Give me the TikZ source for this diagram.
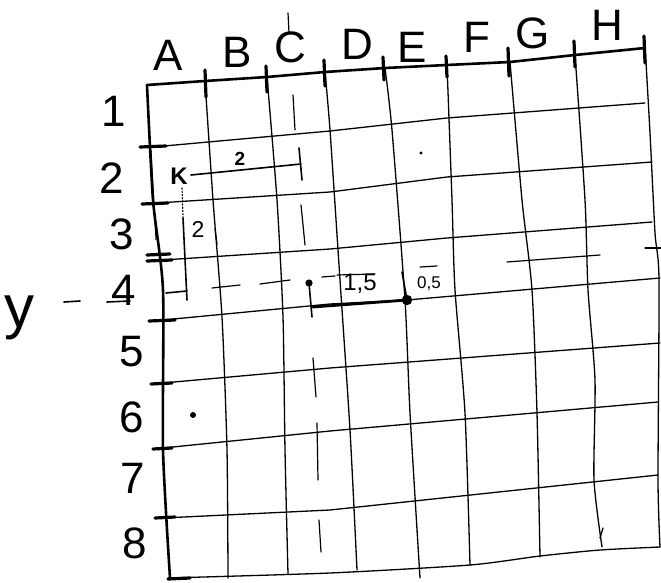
\documentclass[tikz,border=0pt]{standalone}
\usepackage{fontspec}
\setmainfont{Liberation Sans}
\begin{document}
\begin{tikzpicture}[x=1pt,y=-1pt,
  gridline/.style={line width=1.3pt, line join=round, line cap=round},
  frame/.style={line width=2.6pt, line join=round, line cap=round},
  tickmark/.style={line width=3.2pt, line cap=round},
  helper/.style={line width=1.2pt, line cap=round},
  measure/.style={line width=1.6pt, line cap=round},
  thickseg/.style={line width=2.8pt, line cap=round},
  lbl/.style={font=\fontsize{44}{44}\selectfont, inner sep=0pt},
  small/.style={font=\fontsize{20}{20}\selectfont, inner sep=0pt}]
\useasboundingbox (0,0) rectangle (661,583);
\fill[white] (0,0) rectangle (661,583);

% ---- vertical grid lines
\draw[gridline] plot[smooth,tension=0.4] coordinates {(205,81) (213,200) (222,317) (227,450) (228,578)};
\draw[gridline] plot[smooth,tension=0.4] coordinates {(267,77) (277,200) (283,317) (285,450) (288,574)};
\draw[gridline] plot[smooth,tension=0.4] coordinates {(325,72) (330,130) (340,280) (350,430) (357,570)};
\draw[gridline] plot[smooth,tension=0.4] coordinates {(385,68) (392,130) (405,300) (410,413) (420,578)};
\draw[gridline] plot[smooth,tension=0.4] coordinates {(447,65) (452,200) (455,290) (465,413) (470,565)};
\draw[gridline] plot[smooth,tension=0.4] coordinates {(510,62) (522,200) (532,290) (537,413) (540,557)};
\draw[gridline] plot[smooth,tension=0.4] coordinates {(575,55) (585,200) (588,290) (595,380) (594,480) (602,547)};
\draw[gridline] (603,528) -- (600,538);
\draw[gridline] plot[smooth,tension=0.4] coordinates {(645,45) (650,133) (655,233) (659,280) (658,480) (660,547)};

% ---- horizontal grid lines
\draw[gridline] (153,147) -- (330,131) -- (447,118) -- (645,103);
\draw[gridline] (157,203) -- (330,192) -- (447,177) -- (652,162);
\draw[gridline] (163,260) -- (330,249) -- (447,238) -- (652,222);
\draw[gridline] (163,320) -- (330,304) -- (407,300) -- (660,278);
\draw[gridline] (163,383) -- (330,368) -- (660,343);
\draw[gridline] (163,448) -- (330,431) -- (658,402);
\draw[gridline] (163,518) -- (330,510) -- (658,475);
\draw[gridline] plot[smooth,tension=0.4] coordinates {(168,578) (330,573) (470,565) (540,556) (600,550) (660,547)};

% ---- frame (top and left edges)
\draw[frame] (147,85) -- (205,81) -- (267,77) -- (325,72) -- (385,68) -- (447,65) -- (510,62) -- (575,55) -- (645,48);
\draw[frame] plot[smooth,tension=0.4] coordinates {(147,85) (153,200) (163,290) (163,450) (170,578)};
\draw[line width=1pt] (151,150) -- (156,240);

% ---- top ticks
\foreach \x/\ya/\yb in {205/70/97, 266/66/92, 324/60/86, 383/57/80, 446/56/77, 508/48/76, 574/41/67, 644/36/63}
  \draw[tickmark] (\x,\ya) -- (\x+1,\yb);

% ---- left ticks
\draw[tickmark] (140,147) -- (166,146);
\draw[tickmark] (142,204) -- (168,203);
\draw[tickmark] (147,255) -- (170,254);
\draw[tickmark] (147,261) -- (172,260);
\draw[tickmark] (149,321) -- (175,320);
\draw[tickmark] (151,384) -- (172,383);
\draw[tickmark] (153,449) -- (172,448);
\draw[tickmark] (155,518) -- (175,517);
\draw[tickmark] (168,579) -- (190,578);

% ---- dashed helper line through C (vertical)
\foreach \xa/\ya/\xb/\yb in {288/13/289/33, 293/95/295/130, 301/205/305/245, 313/358/316/397, 317/423/318/480, 319/520/321/552}
  \draw[helper] (\xa,\ya) -- (\xb,\yb);

% ---- dashed helper line through row 4 (horizontal)
\foreach \xa/\ya/\xb/\yb in {212/288/240/285, 260/284/290/280, 322/277/335/276, 420/267/437/266, 507/262/600/255, 645/248/661/248}
  \draw[helper] (\xa,\ya) -- (\xb,\yb);
\draw[helper] (337,275) -- (375,274);

% ---- measure from K
\node[inner sep=0pt, font=\fontsize{24}{24}\selectfont\bfseries] (k) at (179,176) {K};
\coordinate (kr) at (191,175);
\coordinate (ke) at (301,164);
\draw[measure] (kr) -- (ke);
\draw[measure] (299,148) -- (302,180);
\node[inner sep=0pt, font=\fontsize{19}{19}\selectfont\bfseries] (two1) at (240,159) {2};
\draw[helper, dotted] (182,188) -- (183,217);
\draw[measure] (183,218) -- (187,300);
\draw[measure] (166,293) -- (187,291);
\node[inner sep=0pt, font=\fontsize{23}{23}\selectfont] (two2) at (198,229) {2};
\draw[helper] (215,229) -- (217,244);

% ---- point construction
\coordinate (p1) at (309,283);
\coordinate (p2) at (407,300);
\fill (p1) circle (3.6);
\draw[measure] (p1) -- (312,317);
\draw[thickseg] (313,307) -- (p2);
\fill (p2) circle (5.2);
\draw[measure] (402,272) -- (p2);
\node[inner sep=0pt, font=\fontsize{24}{24}\selectfont] (l15) at (360,284) {1,5};
\node[inner sep=0pt, font=\fontsize{17}{17}\selectfont] (l05) at (429,284) {0,5};

% ---- stray dots
\fill (421,153) circle (1.6);
\fill (193,415) circle (3);

% ---- column labels
\node[lbl] (cA) at (168,55) {A};
\node[lbl] (cB) at (237,52) {B};
\node[lbl] (cC) at (290,47) {C};
\node[lbl] (cD) at (357,44) {D};
\node[lbl] (cE) at (412,47) {E};
\node[lbl] (cF) at (477,37) {F};
\node[lbl] (cG) at (533,33) {G};
\node[lbl] (cH) at (607,25) {H};

% ---- row labels
\node[lbl] (r1) at (114,111) {1};
\node[lbl] (r2) at (112,178) {2};
\node[lbl] (r3) at (122,234) {3};
\node[lbl] (r4) at (124,290) {4};
\node[lbl] (r5) at (132,352) {5};
\node[lbl] (r6) at (132,417) {6};
\node[lbl] (r7) at (133,478) {7};
\node[lbl] (r8) at (135,543) {8};

% ---- y axis note
\node[lbl, font=\fontsize{60}{60}\selectfont] (ylab) at (20,318) {y};
\draw[measure] (64,302) -- (80,301);
\draw[measure] (107,302) -- (130,301);
\end{tikzpicture}
\end{document}
